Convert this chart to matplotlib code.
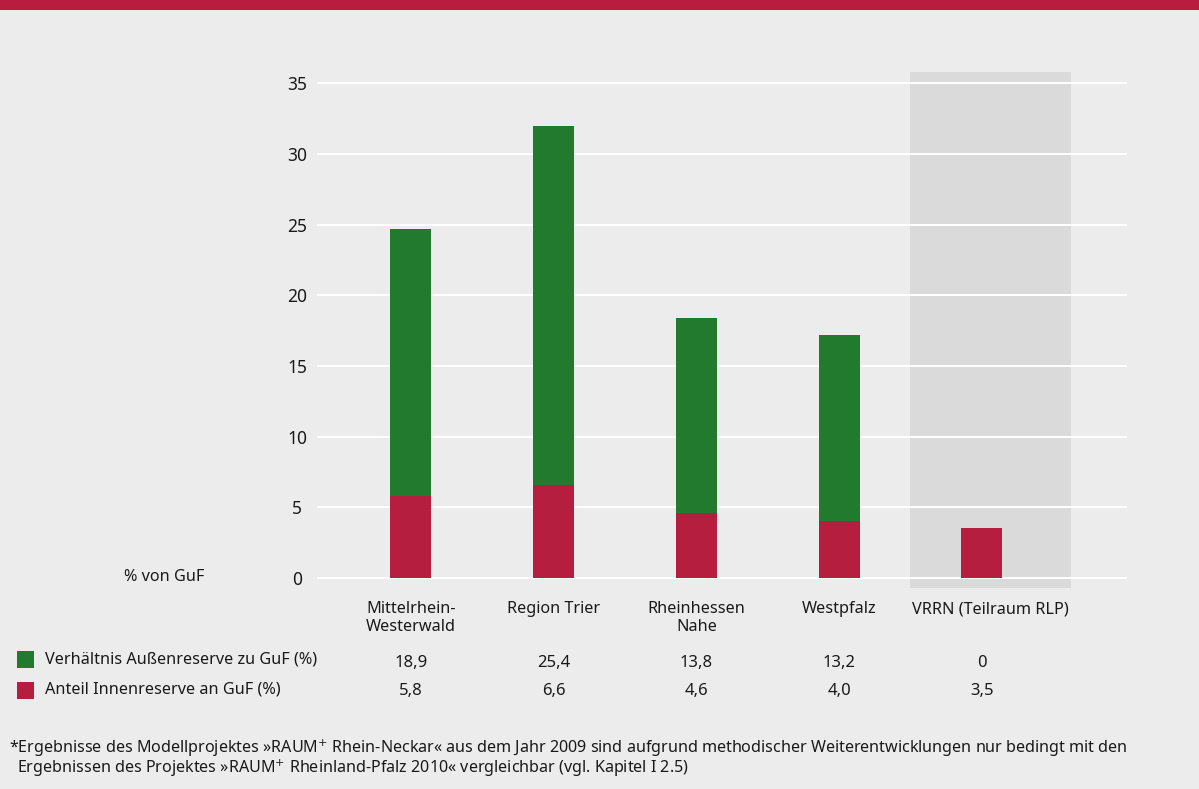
import matplotlib
matplotlib.use("Agg")
import matplotlib.pyplot as plt
import matplotlib.patches as patches
import matplotlib.transforms as mtransforms

# data
regions = ["Mittelrhein-\nWesterwald", "Region Trier", "Rheinhessen\nNahe", "Westpfalz", "VRRN (Teilraum RLP)"]
aussen = [18.9, 25.4, 13.8, 13.2, 0.0]
innen = [5.8, 6.6, 4.6, 4.0, 3.5]
aussen_lbl = ["18,9", "25,4", "13,8", "13,2", "0"]
innen_lbl = ["5,8", "6,6", "4,6", "4,0", "3,5"]
yticks = [0, 5, 10, 15, 20, 25, 30, 35]

GREEN = "#227a2e"
RED = "#b61e40"
BG = "#ececec"
TXT = "#1a1a1a"

plt.rcParams['font.family'] = ['Noto Sans', 'DejaVu Sans']

W, H = 1199, 789
fig = plt.figure(figsize=(W / 100, H / 100), dpi=100, facecolor=BG)

def fx(px):
    return px / W

def fy(py):
    return 1 - py / H

# top bar
fig.patches.append(patches.Rectangle((0, fy(10)), 1, 10 / H, transform=fig.transFigure,
                                     facecolor="#b81c3f", edgecolor="none"))

ax = fig.add_axes([fx(317), fy(588), fx(1127 - 317), (588 - 72) / H])
ax.set_facecolor(BG)
for s in ax.spines.values():
    s.set_visible(False)

x = list(range(len(regions)))
ax.set_xlim(-0.658, 5.016)
ax.set_ylim(-0.72, 35.8)

# shaded VRRN area (not comparable)
ax.axvspan(3.496, 4.624, color="#dadada", zorder=0.2, lw=0)

ax.set_axisbelow(True)
ax.yaxis.grid(True, color="white", lw=1.5)
ax.set_yticks(yticks)
ax.set_yticklabels([str(t) for t in yticks], fontsize=12.5, color=TXT, ha="center")
ax.tick_params(axis="y", length=0, pad=14.4)
ax.set_xticks([])

bw = 0.287
ax.bar(x, innen, width=bw, color=RED, zorder=2)
ax.bar(x, aussen, width=bw, bottom=innen, color=GREEN, zorder=2)

trans = mtransforms.blended_transform_factory(ax.transData, fig.transFigure)
label_x = [0, 1, 2, 3, 4.06]
for lx, name in zip(label_x, regions):
    ax.text(lx, fy(601), name, transform=trans, ha="center", va="top",
            fontsize=11.7, color=TXT, linespacing=1.2)

for xi, a, b in zip(x, aussen_lbl, innen_lbl):
    ax.text(xi, fy(663), a, transform=trans, ha="center", va="center", fontsize=12, color=TXT)
    ax.text(xi, fy(691), b, transform=trans, ha="center", va="center", fontsize=12, color=TXT)

fig.text(fx(164), fy(577), "% von GuF", ha="center", va="center", fontsize=11.7, color=TXT)

# legend
for yy, col, txt in [(659, GREEN, "Verhältnis Außenreserve zu GuF (%)"),
                     (690, RED, "Anteil Innenreserve an GuF (%)")]:
    fig.patches.append(patches.Rectangle((fx(17), fy(yy + 8.5)), 17 / W, 17 / H,
                                         transform=fig.transFigure, facecolor=col, edgecolor="none"))
    fig.text(fx(45), fy(yy), txt, ha="left", va="center", fontsize=11.7, color=TXT)

fig.text(fx(9), fy(748), "*Ergebnisse des Modellprojektes »RAUM$^{+}$ Rhein-Neckar« aus dem Jahr 2009 sind aufgrund "
         "methodischer Weiterentwicklungen nur bedingt mit den",
         ha="left", va="center", fontsize=11.6, color=TXT)
fig.text(fx(17), fy(768), "Ergebnissen des Projektes »RAUM$^{+}$ Rheinland-Pfalz 2010« vergleichbar (vgl. Kapitel I 2.5)",
         ha="left", va="center", fontsize=11.6, color=TXT)

fig.savefig("out.png", dpi=100, facecolor=BG)
